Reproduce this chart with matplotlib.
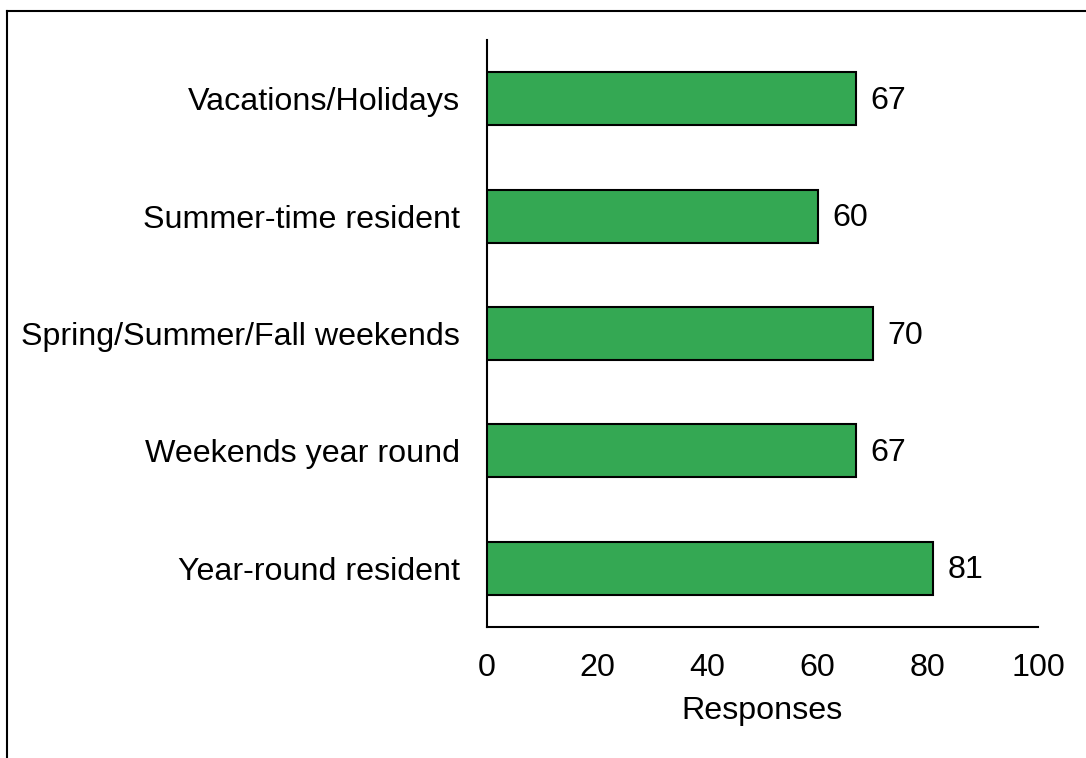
import matplotlib
matplotlib.use("Agg")
import matplotlib.pyplot as plt
from matplotlib.lines import Line2D

categories = ["Year-round resident", "Weekends year round",
              "Spring/Summer/Fall weekends", "Summer-time resident",
              "Vacations/Holidays"]
values = [81, 67, 70, 60, 67]
xticks = [0, 20, 40, 60, 80, 100]

plt.rcParams['font.family'] = ['Liberation Sans', 'DejaVu Sans']
FS = 23.2

W, H = 1086, 758
fig = plt.figure(figsize=(W / 100, H / 100), dpi=100)
ax = fig.add_axes([487 / W, 131 / H, (1038 - 487) / W, (627 - 40) / H])

ypos = list(range(len(categories)))
ax.barh(ypos, values, height=0.45, color="#34A853",
        edgecolor="black", linewidth=1.5, zorder=3)
for y, v in zip(ypos, values):
    ax.annotate(f"{v}", xy=(v, y), xytext=(10.5, -1.5), textcoords="offset points",
                va="center", ha="left", fontsize=FS)

ax.set_xlim(0, 100)
ax.set_ylim(-0.5, 4.5)
ax.set_yticks(ypos)
ax.set_yticklabels(categories, fontsize=FS)
ax.set_xticks(xticks)
ax.set_xticklabels([str(t) for t in xticks], fontsize=FS)
ax.tick_params(axis="both", length=0)
ax.tick_params(axis="y", pad=19.5)
ax.tick_params(axis="x", pad=19)
ax.set_xlabel("Responses", fontsize=FS, labelpad=9)

for s in ["top", "right"]:
    ax.spines[s].set_visible(False)
for s in ["left", "bottom"]:
    ax.spines[s].set_linewidth(1.5)

# figure frame (top and left border)
fig.add_artist(Line2D([7 / W, 1.0], [1 - 10.5 / H, 1 - 10.5 / H],
                      transform=fig.transFigure, color="black", linewidth=1.5))
fig.add_artist(Line2D([7 / W, 7 / W], [0.0, 1 - 10.5 / H],
                      transform=fig.transFigure, color="black", linewidth=1.5))

fig.savefig("out.png", dpi=100)
